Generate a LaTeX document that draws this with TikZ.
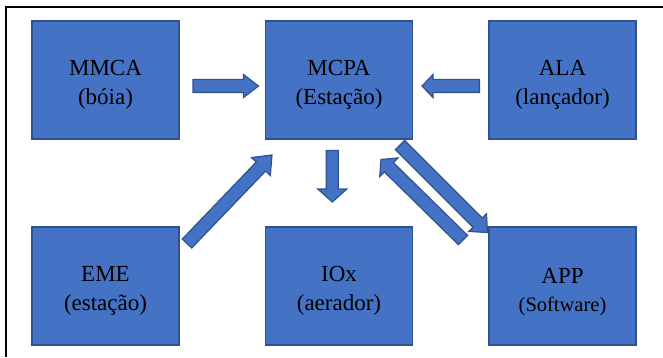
\documentclass[tikz,border=0pt]{standalone}
\usepackage{fontspec}
\setmainfont{Liberation Serif}
\usetikzlibrary{calc}
\definecolor{boxfill}{HTML}{4472C4}
\definecolor{boxline}{HTML}{2F528F}
\tikzset{
  blk/.style={draw=boxline, fill=boxfill, line width=1.3pt, minimum width=147pt,
    minimum height=118pt, inner sep=0pt},
  txt/.style={align=center, text=black, inner sep=0pt, yshift=-5pt,
    font=\fontsize{23}{28.5}\selectfont},
  blkarrow/.style={draw=boxline, fill=boxfill, line width=1.2pt, line join=miter},
  framel/.style={line width=2pt, black}
}
% #1 tail, #2 tip, #3 shaft half width, #4 head half width, #5 head length
\newcommand\blkarrow[5]{%
  \coordinate (baA) at (#1);
  \coordinate (baB) at (#2);
  \coordinate (baM) at ($(baB)!#5!(baA)$);
  \draw[blkarrow] ($(baA)!#3!90:(baB)$) -- ($(baM)!#3!90:(baB)$) -- ($(baM)!#4!90:(baB)$)
    -- (baB) -- ($(baM)!#4!-90:(baB)$) -- ($(baM)!#3!-90:(baB)$) -- ($(baA)!#3!-90:(baB)$) -- cycle;
}
\begin{document}
\begin{tikzpicture}[x=1pt,y=-1pt]
\useasboundingbox (0,0) rectangle (663,357);
\draw[framel] (5.5,357) -- (5.5,6.5) -- (663,6.5);

\node[blk, label={[txt]center:{MMCA\\(bóia)}}] (mmca) at (105.5,80) {};
\node[blk, label={[txt]center:{MCPA\\(Estação)}}] (mcpa) at (339,80) {};
\node[blk, label={[txt]center:{ALA\\(lançador)}}] (ala) at (562.5,80) {};
\node[blk, label={[txt]center:{EME\\(estação)}}] (eme) at (105.5,286) {};
\node[blk, label={[txt]center:{IOx\\(aerador)}}] (iox) at (339,286) {};
\node[blk, label={[txt, yshift=-1pt]center:{APP\\{\fontsize{20.5}{28.5}\selectfont(Software)}}}] (app) at (562.5,286) {};

% arrow end points
\coordinate (a1s) at (193,86);     \coordinate (a1e) at (258.5,86);
\coordinate (a2s) at (479.5,86);   \coordinate (a2e) at (422,86);
\coordinate (a3s) at (332.3,150.5);\coordinate (a3e) at (332.3,202);
\coordinate (a4s) at (187,243.5);  \coordinate (a4e) at (272,155);
\coordinate (a5s) at (400,145);    \coordinate (a5e) at (487.5,232.5);
\coordinate (a6s) at (463,240);    \coordinate (a6e) at (381,159.5);

\blkarrow{a1s}{a1e}{6.5pt}{11.5pt}{15pt}
\blkarrow{a2s}{a2e}{6.5pt}{11.5pt}{11pt}
\blkarrow{a3s}{a3e}{6pt}{14.5pt}{13pt}
\blkarrow{a4s}{a4e}{6.5pt}{13pt}{16pt}
\blkarrow{a5s}{a5e}{6.5pt}{12.5pt}{14pt}
\blkarrow{a6s}{a6e}{6.5pt}{13pt}{11pt}
\end{tikzpicture}
\end{document}
